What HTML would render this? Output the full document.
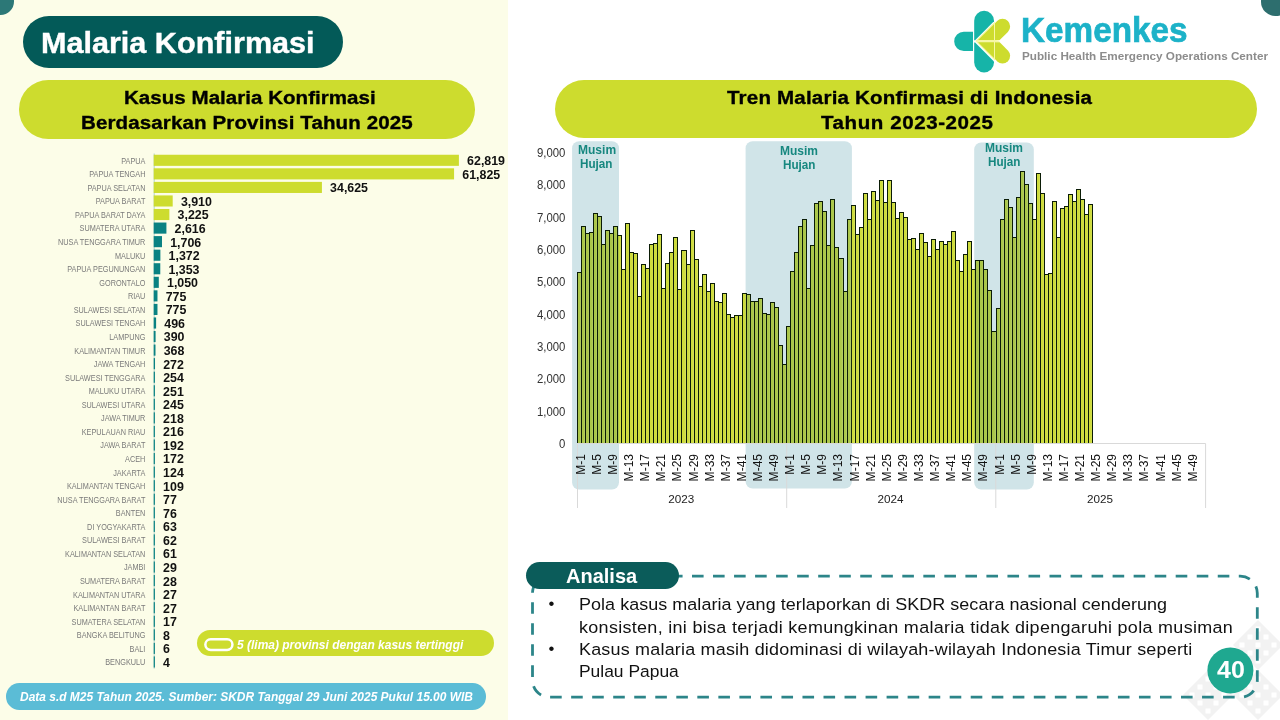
<!DOCTYPE html>
<html lang="id"><head><meta charset="utf-8"><title>Malaria Konfirmasi</title>
<style>
html,body{margin:0;padding:0;}
body{width:1280px;height:720px;overflow:hidden;background:#fff;position:relative;font-family:'Liberation Sans', sans-serif;}
.abs{position:absolute;}
.t{position:absolute;white-space:pre;transform-origin:0 0;}
svg text{font-family:'Liberation Sans', sans-serif;}
</style></head><body>
<div class="abs" style="left:0;top:0;width:508px;height:720px;background:#FCFDE8"></div>
<div class="abs" style="left:-13.4px;top:-12.3px;width:27.2px;height:27.2px;border-radius:50%;background:#2C7877"></div>
<div class="abs" style="left:1261.2px;top:-13.1px;width:28.6px;height:28.6px;border-radius:50%;background:#2D6E6E"></div>
<div class="abs" style="left:22.9px;top:15.8px;width:320.4px;height:51.9px;border-radius:26px;background:#035A58"></div>
<div class="abs" style="left:19.3px;top:80px;width:455.7px;height:58.6px;border-radius:29.3px;background:#CDDC2E"></div>
<div class="abs" style="left:555px;top:80px;width:701.8px;height:58px;border-radius:29px;background:#CDDC2E"></div>
<div class="abs" style="left:197px;top:629.6px;width:297px;height:26.1px;border-radius:13.1px;background:#CDDC2E"></div>
<div class="abs" style="left:6px;top:683.1px;width:479.6px;height:26.5px;border-radius:13.3px;background:#5BBCD6"></div>
<svg class="abs" style="left:0;top:0" width="1280" height="720" viewBox="0 0 1280 720">
<g fill="#F2F2F2">
<polygon points="1183,695 1208,670 1233,695 1208,720"/>
<polygon points="1233,645 1258,620 1283,645 1258,670"/>
<polygon points="1233,695 1258,670 1283,695 1258,720"/>
<polygon points="1283,695 1308,670 1333,695 1308,720"/>
<polygon points="1283,645 1308,620 1333,645 1308,670"/>
<polygon points="1183,745 1208,720 1233,745 1208,770"/>
<polygon points="1233,745 1258,720 1283,745 1258,770"/>
<polygon points="1283,595 1308,570 1333,595 1308,620"/>
</g><g fill="#fff">
<rect x="1205.5" y="692.5" width="5" height="5"/>
<rect x="1197.5" y="684.5" width="5" height="5"/>
<rect x="1213.5" y="684.5" width="5" height="5"/>
<rect x="1197.5" y="700.5" width="5" height="5"/>
<rect x="1213.5" y="700.5" width="5" height="5"/>
<rect x="1205.5" y="676.5" width="5" height="5"/>
<rect x="1205.5" y="708.5" width="5" height="5"/>
<rect x="1189.5" y="692.5" width="5" height="5"/>
<rect x="1221.5" y="692.5" width="5" height="5"/>
<rect x="1255.5" y="642.5" width="5" height="5"/>
<rect x="1247.5" y="634.5" width="5" height="5"/>
<rect x="1263.5" y="634.5" width="5" height="5"/>
<rect x="1247.5" y="650.5" width="5" height="5"/>
<rect x="1263.5" y="650.5" width="5" height="5"/>
<rect x="1255.5" y="626.5" width="5" height="5"/>
<rect x="1255.5" y="658.5" width="5" height="5"/>
<rect x="1239.5" y="642.5" width="5" height="5"/>
<rect x="1271.5" y="642.5" width="5" height="5"/>
<rect x="1255.5" y="692.5" width="5" height="5"/>
<rect x="1247.5" y="684.5" width="5" height="5"/>
<rect x="1263.5" y="684.5" width="5" height="5"/>
<rect x="1247.5" y="700.5" width="5" height="5"/>
<rect x="1263.5" y="700.5" width="5" height="5"/>
<rect x="1255.5" y="676.5" width="5" height="5"/>
<rect x="1255.5" y="708.5" width="5" height="5"/>
<rect x="1239.5" y="692.5" width="5" height="5"/>
<rect x="1271.5" y="692.5" width="5" height="5"/>
<rect x="1305.5" y="692.5" width="5" height="5"/>
<rect x="1297.5" y="684.5" width="5" height="5"/>
<rect x="1313.5" y="684.5" width="5" height="5"/>
<rect x="1297.5" y="700.5" width="5" height="5"/>
<rect x="1313.5" y="700.5" width="5" height="5"/>
<rect x="1305.5" y="676.5" width="5" height="5"/>
<rect x="1305.5" y="708.5" width="5" height="5"/>
<rect x="1289.5" y="692.5" width="5" height="5"/>
<rect x="1321.5" y="692.5" width="5" height="5"/>
<rect x="1305.5" y="642.5" width="5" height="5"/>
<rect x="1297.5" y="634.5" width="5" height="5"/>
<rect x="1313.5" y="634.5" width="5" height="5"/>
<rect x="1297.5" y="650.5" width="5" height="5"/>
<rect x="1313.5" y="650.5" width="5" height="5"/>
<rect x="1305.5" y="626.5" width="5" height="5"/>
<rect x="1305.5" y="658.5" width="5" height="5"/>
<rect x="1289.5" y="642.5" width="5" height="5"/>
<rect x="1321.5" y="642.5" width="5" height="5"/>
<rect x="1205.5" y="742.5" width="5" height="5"/>
<rect x="1197.5" y="734.5" width="5" height="5"/>
<rect x="1213.5" y="734.5" width="5" height="5"/>
<rect x="1197.5" y="750.5" width="5" height="5"/>
<rect x="1213.5" y="750.5" width="5" height="5"/>
<rect x="1205.5" y="726.5" width="5" height="5"/>
<rect x="1205.5" y="758.5" width="5" height="5"/>
<rect x="1189.5" y="742.5" width="5" height="5"/>
<rect x="1221.5" y="742.5" width="5" height="5"/>
<rect x="1255.5" y="742.5" width="5" height="5"/>
<rect x="1247.5" y="734.5" width="5" height="5"/>
<rect x="1263.5" y="734.5" width="5" height="5"/>
<rect x="1247.5" y="750.5" width="5" height="5"/>
<rect x="1263.5" y="750.5" width="5" height="5"/>
<rect x="1255.5" y="726.5" width="5" height="5"/>
<rect x="1255.5" y="758.5" width="5" height="5"/>
<rect x="1239.5" y="742.5" width="5" height="5"/>
<rect x="1271.5" y="742.5" width="5" height="5"/>
<rect x="1305.5" y="592.5" width="5" height="5"/>
<rect x="1297.5" y="584.5" width="5" height="5"/>
<rect x="1313.5" y="584.5" width="5" height="5"/>
<rect x="1297.5" y="600.5" width="5" height="5"/>
<rect x="1313.5" y="600.5" width="5" height="5"/>
<rect x="1305.5" y="576.5" width="5" height="5"/>
<rect x="1305.5" y="608.5" width="5" height="5"/>
<rect x="1289.5" y="592.5" width="5" height="5"/>
<rect x="1321.5" y="592.5" width="5" height="5"/>
</g>
<line x1="154.2" y1="153.5" x2="154.2" y2="668.7" stroke="#8fc0c0" stroke-width="0.7"/>
<rect x="153.7" y="154.75" width="305.20" height="11.1" fill="#CDDC2E"/>
<text transform="translate(145.4,163.70) scale(0.785,1)" text-anchor="end" font-size="9.3" fill="#7a7a7a">PAPUA</text>
<text x="467.10" y="165.20" font-size="12.4" font-weight="bold" fill="#111">62,819</text>
<rect x="153.7" y="168.31" width="300.37" height="11.1" fill="#CDDC2E"/>
<text transform="translate(145.4,177.26) scale(0.785,1)" text-anchor="end" font-size="9.3" fill="#7a7a7a">PAPUA TENGAH</text>
<text x="462.27" y="178.76" font-size="12.4" font-weight="bold" fill="#111">61,825</text>
<rect x="153.7" y="181.87" width="168.22" height="11.1" fill="#CDDC2E"/>
<text transform="translate(145.4,190.82) scale(0.785,1)" text-anchor="end" font-size="9.3" fill="#7a7a7a">PAPUA SELATAN</text>
<text x="330.12" y="192.32" font-size="12.4" font-weight="bold" fill="#111">34,625</text>
<rect x="153.7" y="195.42" width="19.00" height="11.1" fill="#CDDC2E"/>
<text transform="translate(145.4,204.37) scale(0.785,1)" text-anchor="end" font-size="9.3" fill="#7a7a7a">PAPUA BARAT</text>
<text x="180.90" y="205.87" font-size="12.4" font-weight="bold" fill="#111">3,910</text>
<rect x="153.7" y="208.98" width="15.67" height="11.1" fill="#CDDC2E"/>
<text transform="translate(145.4,217.93) scale(0.785,1)" text-anchor="end" font-size="9.3" fill="#7a7a7a">PAPUA BARAT DAYA</text>
<text x="177.57" y="219.43" font-size="12.4" font-weight="bold" fill="#111">3,225</text>
<rect x="153.7" y="222.54" width="12.71" height="11.1" fill="#0A8282"/>
<text transform="translate(145.4,231.49) scale(0.785,1)" text-anchor="end" font-size="9.3" fill="#7a7a7a">SUMATERA UTARA</text>
<text x="174.61" y="232.99" font-size="12.4" font-weight="bold" fill="#111">2,616</text>
<rect x="153.7" y="236.10" width="8.29" height="11.1" fill="#0A8282"/>
<text transform="translate(145.4,245.05) scale(0.785,1)" text-anchor="end" font-size="9.3" fill="#7a7a7a">NUSA TENGGARA TIMUR</text>
<text x="170.19" y="246.55" font-size="12.4" font-weight="bold" fill="#111">1,706</text>
<rect x="153.7" y="249.66" width="6.67" height="11.1" fill="#0A8282"/>
<text transform="translate(145.4,258.61) scale(0.785,1)" text-anchor="end" font-size="9.3" fill="#7a7a7a">MALUKU</text>
<text x="168.57" y="260.11" font-size="12.4" font-weight="bold" fill="#111">1,372</text>
<rect x="153.7" y="263.21" width="6.57" height="11.1" fill="#0A8282"/>
<text transform="translate(145.4,272.16) scale(0.785,1)" text-anchor="end" font-size="9.3" fill="#7a7a7a">PAPUA PEGUNUNGAN</text>
<text x="168.47" y="273.66" font-size="12.4" font-weight="bold" fill="#111">1,353</text>
<rect x="153.7" y="276.77" width="5.10" height="11.1" fill="#0A8282"/>
<text transform="translate(145.4,285.72) scale(0.785,1)" text-anchor="end" font-size="9.3" fill="#7a7a7a">GORONTALO</text>
<text x="167.00" y="287.22" font-size="12.4" font-weight="bold" fill="#111">1,050</text>
<rect x="153.7" y="290.33" width="3.77" height="11.1" fill="#0A8282"/>
<text transform="translate(145.4,299.28) scale(0.785,1)" text-anchor="end" font-size="9.3" fill="#7a7a7a">RIAU</text>
<text x="165.67" y="300.78" font-size="12.4" font-weight="bold" fill="#111">775</text>
<rect x="153.7" y="303.89" width="3.77" height="11.1" fill="#0A8282"/>
<text transform="translate(145.4,312.84) scale(0.785,1)" text-anchor="end" font-size="9.3" fill="#7a7a7a">SULAWESI SELATAN</text>
<text x="165.67" y="314.34" font-size="12.4" font-weight="bold" fill="#111">775</text>
<rect x="153.7" y="317.45" width="2.41" height="11.1" fill="#0A8282"/>
<text transform="translate(145.4,326.40) scale(0.785,1)" text-anchor="end" font-size="9.3" fill="#7a7a7a">SULAWESI TENGAH</text>
<text x="164.31" y="327.90" font-size="12.4" font-weight="bold" fill="#111">496</text>
<rect x="153.7" y="331.00" width="1.89" height="11.1" fill="#0A8282"/>
<text transform="translate(145.4,339.95) scale(0.785,1)" text-anchor="end" font-size="9.3" fill="#7a7a7a">LAMPUNG</text>
<text x="163.79" y="341.45" font-size="12.4" font-weight="bold" fill="#111">390</text>
<rect x="153.7" y="344.56" width="1.79" height="11.1" fill="#0A8282"/>
<text transform="translate(145.4,353.51) scale(0.785,1)" text-anchor="end" font-size="9.3" fill="#7a7a7a">KALIMANTAN TIMUR</text>
<text x="163.69" y="355.01" font-size="12.4" font-weight="bold" fill="#111">368</text>
<rect x="153.7" y="358.12" width="1.32" height="11.1" fill="#0A8282"/>
<text transform="translate(145.4,367.07) scale(0.785,1)" text-anchor="end" font-size="9.3" fill="#7a7a7a">JAWA TENGAH</text>
<text x="163.22" y="368.57" font-size="12.4" font-weight="bold" fill="#111">272</text>
<rect x="153.7" y="371.68" width="1.23" height="11.1" fill="#0A8282"/>
<text transform="translate(145.4,380.63) scale(0.785,1)" text-anchor="end" font-size="9.3" fill="#7a7a7a">SULAWESI TENGGARA</text>
<text x="163.13" y="382.13" font-size="12.4" font-weight="bold" fill="#111">254</text>
<rect x="153.7" y="385.24" width="1.22" height="11.1" fill="#0A8282"/>
<text transform="translate(145.4,394.19) scale(0.785,1)" text-anchor="end" font-size="9.3" fill="#7a7a7a">MALUKU UTARA</text>
<text x="163.12" y="395.69" font-size="12.4" font-weight="bold" fill="#111">251</text>
<rect x="153.7" y="398.79" width="1.20" height="11.1" fill="#0A8282"/>
<text transform="translate(145.4,407.74) scale(0.785,1)" text-anchor="end" font-size="9.3" fill="#7a7a7a">SULAWESI UTARA</text>
<text x="163.10" y="409.24" font-size="12.4" font-weight="bold" fill="#111">245</text>
<rect x="153.7" y="412.35" width="1.20" height="11.1" fill="#0A8282"/>
<text transform="translate(145.4,421.30) scale(0.785,1)" text-anchor="end" font-size="9.3" fill="#7a7a7a">JAWA TIMUR</text>
<text x="163.10" y="422.80" font-size="12.4" font-weight="bold" fill="#111">218</text>
<rect x="153.7" y="425.91" width="1.20" height="11.1" fill="#0A8282"/>
<text transform="translate(145.4,434.86) scale(0.785,1)" text-anchor="end" font-size="9.3" fill="#7a7a7a">KEPULAUAN RIAU</text>
<text x="163.10" y="436.36" font-size="12.4" font-weight="bold" fill="#111">216</text>
<rect x="153.7" y="439.47" width="1.20" height="11.1" fill="#0A8282"/>
<text transform="translate(145.4,448.42) scale(0.785,1)" text-anchor="end" font-size="9.3" fill="#7a7a7a">JAWA BARAT</text>
<text x="163.10" y="449.92" font-size="12.4" font-weight="bold" fill="#111">192</text>
<rect x="153.7" y="453.03" width="1.20" height="11.1" fill="#0A8282"/>
<text transform="translate(145.4,461.98) scale(0.785,1)" text-anchor="end" font-size="9.3" fill="#7a7a7a">ACEH</text>
<text x="163.10" y="463.48" font-size="12.4" font-weight="bold" fill="#111">172</text>
<rect x="153.7" y="466.58" width="1.20" height="11.1" fill="#0A8282"/>
<text transform="translate(145.4,475.53) scale(0.785,1)" text-anchor="end" font-size="9.3" fill="#7a7a7a">JAKARTA</text>
<text x="163.10" y="477.03" font-size="12.4" font-weight="bold" fill="#111">124</text>
<rect x="153.7" y="480.14" width="1.20" height="11.1" fill="#0A8282"/>
<text transform="translate(145.4,489.09) scale(0.785,1)" text-anchor="end" font-size="9.3" fill="#7a7a7a">KALIMANTAN TENGAH</text>
<text x="163.10" y="490.59" font-size="12.4" font-weight="bold" fill="#111">109</text>
<rect x="153.7" y="493.70" width="1.20" height="11.1" fill="#0A8282"/>
<text transform="translate(145.4,502.65) scale(0.785,1)" text-anchor="end" font-size="9.3" fill="#7a7a7a">NUSA TENGGARA BARAT</text>
<text x="163.10" y="504.15" font-size="12.4" font-weight="bold" fill="#111">77</text>
<rect x="153.7" y="507.26" width="1.20" height="11.1" fill="#0A8282"/>
<text transform="translate(145.4,516.21) scale(0.785,1)" text-anchor="end" font-size="9.3" fill="#7a7a7a">BANTEN</text>
<text x="163.10" y="517.71" font-size="12.4" font-weight="bold" fill="#111">76</text>
<rect x="153.7" y="520.82" width="1.20" height="11.1" fill="#0A8282"/>
<text transform="translate(145.4,529.77) scale(0.785,1)" text-anchor="end" font-size="9.3" fill="#7a7a7a">DI YOGYAKARTA</text>
<text x="163.10" y="531.27" font-size="12.4" font-weight="bold" fill="#111">63</text>
<rect x="153.7" y="534.37" width="1.20" height="11.1" fill="#0A8282"/>
<text transform="translate(145.4,543.32) scale(0.785,1)" text-anchor="end" font-size="9.3" fill="#7a7a7a">SULAWESI BARAT</text>
<text x="163.10" y="544.82" font-size="12.4" font-weight="bold" fill="#111">62</text>
<rect x="153.7" y="547.93" width="1.20" height="11.1" fill="#0A8282"/>
<text transform="translate(145.4,556.88) scale(0.785,1)" text-anchor="end" font-size="9.3" fill="#7a7a7a">KALIMANTAN SELATAN</text>
<text x="163.10" y="558.38" font-size="12.4" font-weight="bold" fill="#111">61</text>
<rect x="153.7" y="561.49" width="1.20" height="11.1" fill="#0A8282"/>
<text transform="translate(145.4,570.44) scale(0.785,1)" text-anchor="end" font-size="9.3" fill="#7a7a7a">JAMBI</text>
<text x="163.10" y="571.94" font-size="12.4" font-weight="bold" fill="#111">29</text>
<rect x="153.7" y="575.05" width="1.20" height="11.1" fill="#0A8282"/>
<text transform="translate(145.4,584.00) scale(0.785,1)" text-anchor="end" font-size="9.3" fill="#7a7a7a">SUMATERA BARAT</text>
<text x="163.10" y="585.50" font-size="12.4" font-weight="bold" fill="#111">28</text>
<rect x="153.7" y="588.61" width="1.20" height="11.1" fill="#0A8282"/>
<text transform="translate(145.4,597.56) scale(0.785,1)" text-anchor="end" font-size="9.3" fill="#7a7a7a">KALIMANTAN UTARA</text>
<text x="163.10" y="599.06" font-size="12.4" font-weight="bold" fill="#111">27</text>
<rect x="153.7" y="602.16" width="1.20" height="11.1" fill="#0A8282"/>
<text transform="translate(145.4,611.11) scale(0.785,1)" text-anchor="end" font-size="9.3" fill="#7a7a7a">KALIMANTAN BARAT</text>
<text x="163.10" y="612.61" font-size="12.4" font-weight="bold" fill="#111">27</text>
<rect x="153.7" y="615.72" width="1.20" height="11.1" fill="#0A8282"/>
<text transform="translate(145.4,624.67) scale(0.785,1)" text-anchor="end" font-size="9.3" fill="#7a7a7a">SUMATERA SELATAN</text>
<text x="163.10" y="626.17" font-size="12.4" font-weight="bold" fill="#111">17</text>
<rect x="153.7" y="629.28" width="1.20" height="11.1" fill="#0A8282"/>
<text transform="translate(145.4,638.23) scale(0.785,1)" text-anchor="end" font-size="9.3" fill="#7a7a7a">BANGKA BELITUNG</text>
<text x="163.10" y="639.73" font-size="12.4" font-weight="bold" fill="#111">8</text>
<rect x="153.7" y="642.84" width="1.20" height="11.1" fill="#0A8282"/>
<text transform="translate(145.4,651.79) scale(0.785,1)" text-anchor="end" font-size="9.3" fill="#7a7a7a">BALI</text>
<text x="163.10" y="653.29" font-size="12.4" font-weight="bold" fill="#111">6</text>
<rect x="153.7" y="656.40" width="1.20" height="11.1" fill="#0A8282"/>
<text transform="translate(145.4,665.35) scale(0.785,1)" text-anchor="end" font-size="9.3" fill="#7a7a7a">BENGKULU</text>
<text x="163.10" y="666.85" font-size="12.4" font-weight="bold" fill="#111">4</text>
<rect x="572.1" y="141.25" width="46.90" height="348.35" rx="7" fill="#D0E4E8"/>
<rect x="745.6" y="141.25" width="106.30" height="347.35" rx="7" fill="#D0E4E8"/>
<rect x="974.2" y="142.5" width="59.60" height="347.10" rx="7" fill="#D0E4E8"/>
<text transform="translate(565.4,447.90) scale(0.94,1)" text-anchor="end" font-size="12.1" fill="#333">0</text>
<text transform="translate(565.4,415.56) scale(0.94,1)" text-anchor="end" font-size="12.1" fill="#333">1,000</text>
<text transform="translate(565.4,383.22) scale(0.94,1)" text-anchor="end" font-size="12.1" fill="#333">2,000</text>
<text transform="translate(565.4,350.88) scale(0.94,1)" text-anchor="end" font-size="12.1" fill="#333">3,000</text>
<text transform="translate(565.4,318.54) scale(0.94,1)" text-anchor="end" font-size="12.1" fill="#333">4,000</text>
<text transform="translate(565.4,286.20) scale(0.94,1)" text-anchor="end" font-size="12.1" fill="#333">5,000</text>
<text transform="translate(565.4,253.86) scale(0.94,1)" text-anchor="end" font-size="12.1" fill="#333">6,000</text>
<text transform="translate(565.4,221.52) scale(0.94,1)" text-anchor="end" font-size="12.1" fill="#333">7,000</text>
<text transform="translate(565.4,189.18) scale(0.94,1)" text-anchor="end" font-size="12.1" fill="#333">8,000</text>
<text transform="translate(565.4,156.84) scale(0.94,1)" text-anchor="end" font-size="12.1" fill="#333">9,000</text>
<path d="M577.5 443.5H1205.6M577.5 443.5V508M786.7 443.5V508M995.8 443.5V508M1205.6 443.5V508" stroke="#d9d9d9" stroke-width="1" fill="none"/>
<defs><linearGradient id="gy" x1="0" x2="1" y1="0" y2="0"><stop offset="0" stop-color="#D0DE3C"/><stop offset="0.55" stop-color="#CDDB3C"/><stop offset="1" stop-color="#D8E262"/></linearGradient>
<linearGradient id="gg" x1="0" x2="1" y1="0" y2="0"><stop offset="0" stop-color="#AAC64A"/><stop offset="0.55" stop-color="#ABC648"/><stop offset="1" stop-color="#B6CF70"/></linearGradient>
<clipPath id="boxclip"><rect x="572.1" y="100" width="46.90" height="400"/><rect x="745.6" y="100" width="106.30" height="400"/><rect x="974.2" y="100" width="59.60" height="400"/></clipPath></defs>
<g fill="url(#gy)" stroke="#0B1C06" stroke-width="1" shape-rendering="crispEdges" >
<path d="M577.30 443.0V272.5H581.33V443.0"/>
<path d="M581.33 443.0V226.5H585.35V443.0"/>
<path d="M585.35 443.0V233.5H589.38V443.0"/>
<path d="M589.38 443.0V232.5H593.40V443.0"/>
<path d="M593.40 443.0V213.5H597.43V443.0"/>
<path d="M597.43 443.0V216.5H601.46V443.0"/>
<path d="M601.46 443.0V244.5H605.48V443.0"/>
<path d="M605.48 443.0V230.5H609.51V443.0"/>
<path d="M609.51 443.0V233.5H613.53V443.0"/>
<path d="M613.53 443.0V226.5H617.56V443.0"/>
<path d="M617.56 443.0V235.5H621.59V443.0"/>
<path d="M621.59 443.0V269.5H625.61V443.0"/>
<path d="M625.61 443.0V223.5H629.64V443.0"/>
<path d="M629.64 443.0V252.5H633.66V443.0"/>
<path d="M633.66 443.0V253.5H637.69V443.0"/>
<path d="M637.69 443.0V296.5H641.72V443.0"/>
<path d="M641.72 443.0V264.5H645.74V443.0"/>
<path d="M645.74 443.0V268.5H649.77V443.0"/>
<path d="M649.77 443.0V244.5H653.79V443.0"/>
<path d="M653.79 443.0V243.5H657.82V443.0"/>
<path d="M657.82 443.0V234.5H661.85V443.0"/>
<path d="M661.85 443.0V288.5H665.87V443.0"/>
<path d="M665.87 443.0V263.5H669.90V443.0"/>
<path d="M669.90 443.0V252.5H673.92V443.0"/>
<path d="M673.92 443.0V237.5H677.95V443.0"/>
<path d="M677.95 443.0V289.5H681.98V443.0"/>
<path d="M681.98 443.0V250.5H686.00V443.0"/>
<path d="M686.00 443.0V264.5H690.03V443.0"/>
<path d="M690.03 443.0V230.5H694.05V443.0"/>
<path d="M694.05 443.0V259.5H698.08V443.0"/>
<path d="M698.08 443.0V286.5H702.11V443.0"/>
<path d="M702.11 443.0V274.5H706.13V443.0"/>
<path d="M706.13 443.0V291.5H710.16V443.0"/>
<path d="M710.16 443.0V283.5H714.18V443.0"/>
<path d="M714.18 443.0V301.5H718.21V443.0"/>
<path d="M718.21 443.0V302.5H722.24V443.0"/>
<path d="M722.24 443.0V293.5H726.26V443.0"/>
<path d="M726.26 443.0V314.5H730.29V443.0"/>
<path d="M730.29 443.0V317.5H734.31V443.0"/>
<path d="M734.31 443.0V315.5H738.34V443.0"/>
<path d="M738.34 443.0V315.5H742.37V443.0"/>
<path d="M742.37 443.0V293.5H746.39V443.0"/>
<path d="M746.39 443.0V294.5H750.42V443.0"/>
<path d="M750.42 443.0V301.5H754.44V443.0"/>
<path d="M754.44 443.0V301.5H758.47V443.0"/>
<path d="M758.47 443.0V298.5H762.50V443.0"/>
<path d="M762.50 443.0V313.5H766.52V443.0"/>
<path d="M766.52 443.0V314.5H770.55V443.0"/>
<path d="M770.55 443.0V302.5H774.57V443.0"/>
<path d="M774.57 443.0V307.5H778.60V443.0"/>
<path d="M778.60 443.0V345.5H782.63V443.0"/>
<path d="M782.63 443.0V364.5H786.65V443.0"/>
<path d="M786.65 443.0V326.5H790.68V443.0"/>
<path d="M790.68 443.0V271.5H794.70V443.0"/>
<path d="M794.70 443.0V252.5H798.73V443.0"/>
<path d="M798.73 443.0V226.5H802.76V443.0"/>
<path d="M802.76 443.0V219.5H806.78V443.0"/>
<path d="M806.78 443.0V288.5H810.81V443.0"/>
<path d="M810.81 443.0V245.5H814.83V443.0"/>
<path d="M814.83 443.0V203.5H818.86V443.0"/>
<path d="M818.86 443.0V201.5H822.89V443.0"/>
<path d="M822.89 443.0V211.5H826.91V443.0"/>
<path d="M826.91 443.0V245.5H830.94V443.0"/>
<path d="M830.94 443.0V199.5H834.96V443.0"/>
<path d="M834.96 443.0V247.5H838.99V443.0"/>
<path d="M838.99 443.0V258.5H843.02V443.0"/>
<path d="M843.02 443.0V291.5H847.04V443.0"/>
<path d="M847.04 443.0V219.5H851.07V443.0"/>
<path d="M851.07 443.0V205.5H855.09V443.0"/>
<path d="M855.09 443.0V234.5H859.12V443.0"/>
<path d="M859.12 443.0V227.5H863.15V443.0"/>
<path d="M863.15 443.0V193.5H867.17V443.0"/>
<path d="M867.17 443.0V219.5H871.20V443.0"/>
<path d="M871.20 443.0V191.5H875.22V443.0"/>
<path d="M875.22 443.0V200.5H879.25V443.0"/>
<path d="M879.25 443.0V180.5H883.28V443.0"/>
<path d="M883.28 443.0V202.5H887.30V443.0"/>
<path d="M887.30 443.0V180.5H891.33V443.0"/>
<path d="M891.33 443.0V202.5H895.35V443.0"/>
<path d="M895.35 443.0V218.5H899.38V443.0"/>
<path d="M899.38 443.0V212.5H903.41V443.0"/>
<path d="M903.41 443.0V217.5H907.43V443.0"/>
<path d="M907.43 443.0V239.5H911.46V443.0"/>
<path d="M911.46 443.0V238.5H915.48V443.0"/>
<path d="M915.48 443.0V249.5H919.51V443.0"/>
<path d="M919.51 443.0V233.5H923.54V443.0"/>
<path d="M923.54 443.0V242.5H927.56V443.0"/>
<path d="M927.56 443.0V256.5H931.59V443.0"/>
<path d="M931.59 443.0V239.5H935.61V443.0"/>
<path d="M935.61 443.0V249.5H939.64V443.0"/>
<path d="M939.64 443.0V241.5H943.67V443.0"/>
<path d="M943.67 443.0V244.5H947.69V443.0"/>
<path d="M947.69 443.0V241.5H951.72V443.0"/>
<path d="M951.72 443.0V231.5H955.74V443.0"/>
<path d="M955.74 443.0V260.5H959.77V443.0"/>
<path d="M959.77 443.0V271.5H963.80V443.0"/>
<path d="M963.80 443.0V254.5H967.82V443.0"/>
<path d="M967.82 443.0V241.5H971.85V443.0"/>
<path d="M971.85 443.0V269.5H975.87V443.0"/>
<path d="M975.87 443.0V260.5H979.90V443.0"/>
<path d="M979.90 443.0V260.5H983.93V443.0"/>
<path d="M983.93 443.0V269.5H987.95V443.0"/>
<path d="M987.95 443.0V290.5H991.98V443.0"/>
<path d="M991.98 443.0V331.5H996.00V443.0"/>
<path d="M996.00 443.0V308.5H1000.03V443.0"/>
<path d="M1000.03 443.0V219.5H1004.06V443.0"/>
<path d="M1004.06 443.0V199.5H1008.08V443.0"/>
<path d="M1008.08 443.0V207.5H1012.11V443.0"/>
<path d="M1012.11 443.0V237.5H1016.13V443.0"/>
<path d="M1016.13 443.0V197.5H1020.16V443.0"/>
<path d="M1020.16 443.0V171.5H1024.19V443.0"/>
<path d="M1024.19 443.0V184.5H1028.21V443.0"/>
<path d="M1028.21 443.0V203.5H1032.24V443.0"/>
<path d="M1032.24 443.0V219.5H1036.26V443.0"/>
<path d="M1036.26 443.0V173.5H1040.29V443.0"/>
<path d="M1040.29 443.0V193.5H1044.32V443.0"/>
<path d="M1044.32 443.0V274.5H1048.34V443.0"/>
<path d="M1048.34 443.0V273.5H1052.37V443.0"/>
<path d="M1052.37 443.0V201.5H1056.39V443.0"/>
<path d="M1056.39 443.0V237.5H1060.42V443.0"/>
<path d="M1060.42 443.0V208.5H1064.45V443.0"/>
<path d="M1064.45 443.0V206.5H1068.47V443.0"/>
<path d="M1068.47 443.0V194.5H1072.50V443.0"/>
<path d="M1072.50 443.0V201.5H1076.52V443.0"/>
<path d="M1076.52 443.0V189.5H1080.55V443.0"/>
<path d="M1080.55 443.0V199.5H1084.58V443.0"/>
<path d="M1084.58 443.0V214.5H1088.60V443.0"/>
<path d="M1088.60 443.0V204.5H1092.63V443.0"/>
</g>
<g fill="url(#gg)" stroke="#0B1C06" stroke-width="1" shape-rendering="crispEdges" clip-path="url(#boxclip)">
<path d="M577.30 443.0V272.5H581.33V443.0"/>
<path d="M581.33 443.0V226.5H585.35V443.0"/>
<path d="M585.35 443.0V233.5H589.38V443.0"/>
<path d="M589.38 443.0V232.5H593.40V443.0"/>
<path d="M593.40 443.0V213.5H597.43V443.0"/>
<path d="M597.43 443.0V216.5H601.46V443.0"/>
<path d="M601.46 443.0V244.5H605.48V443.0"/>
<path d="M605.48 443.0V230.5H609.51V443.0"/>
<path d="M609.51 443.0V233.5H613.53V443.0"/>
<path d="M613.53 443.0V226.5H617.56V443.0"/>
<path d="M617.56 443.0V235.5H621.59V443.0"/>
<path d="M621.59 443.0V269.5H625.61V443.0"/>
<path d="M625.61 443.0V223.5H629.64V443.0"/>
<path d="M629.64 443.0V252.5H633.66V443.0"/>
<path d="M633.66 443.0V253.5H637.69V443.0"/>
<path d="M637.69 443.0V296.5H641.72V443.0"/>
<path d="M641.72 443.0V264.5H645.74V443.0"/>
<path d="M645.74 443.0V268.5H649.77V443.0"/>
<path d="M649.77 443.0V244.5H653.79V443.0"/>
<path d="M653.79 443.0V243.5H657.82V443.0"/>
<path d="M657.82 443.0V234.5H661.85V443.0"/>
<path d="M661.85 443.0V288.5H665.87V443.0"/>
<path d="M665.87 443.0V263.5H669.90V443.0"/>
<path d="M669.90 443.0V252.5H673.92V443.0"/>
<path d="M673.92 443.0V237.5H677.95V443.0"/>
<path d="M677.95 443.0V289.5H681.98V443.0"/>
<path d="M681.98 443.0V250.5H686.00V443.0"/>
<path d="M686.00 443.0V264.5H690.03V443.0"/>
<path d="M690.03 443.0V230.5H694.05V443.0"/>
<path d="M694.05 443.0V259.5H698.08V443.0"/>
<path d="M698.08 443.0V286.5H702.11V443.0"/>
<path d="M702.11 443.0V274.5H706.13V443.0"/>
<path d="M706.13 443.0V291.5H710.16V443.0"/>
<path d="M710.16 443.0V283.5H714.18V443.0"/>
<path d="M714.18 443.0V301.5H718.21V443.0"/>
<path d="M718.21 443.0V302.5H722.24V443.0"/>
<path d="M722.24 443.0V293.5H726.26V443.0"/>
<path d="M726.26 443.0V314.5H730.29V443.0"/>
<path d="M730.29 443.0V317.5H734.31V443.0"/>
<path d="M734.31 443.0V315.5H738.34V443.0"/>
<path d="M738.34 443.0V315.5H742.37V443.0"/>
<path d="M742.37 443.0V293.5H746.39V443.0"/>
<path d="M746.39 443.0V294.5H750.42V443.0"/>
<path d="M750.42 443.0V301.5H754.44V443.0"/>
<path d="M754.44 443.0V301.5H758.47V443.0"/>
<path d="M758.47 443.0V298.5H762.50V443.0"/>
<path d="M762.50 443.0V313.5H766.52V443.0"/>
<path d="M766.52 443.0V314.5H770.55V443.0"/>
<path d="M770.55 443.0V302.5H774.57V443.0"/>
<path d="M774.57 443.0V307.5H778.60V443.0"/>
<path d="M778.60 443.0V345.5H782.63V443.0"/>
<path d="M782.63 443.0V364.5H786.65V443.0"/>
<path d="M786.65 443.0V326.5H790.68V443.0"/>
<path d="M790.68 443.0V271.5H794.70V443.0"/>
<path d="M794.70 443.0V252.5H798.73V443.0"/>
<path d="M798.73 443.0V226.5H802.76V443.0"/>
<path d="M802.76 443.0V219.5H806.78V443.0"/>
<path d="M806.78 443.0V288.5H810.81V443.0"/>
<path d="M810.81 443.0V245.5H814.83V443.0"/>
<path d="M814.83 443.0V203.5H818.86V443.0"/>
<path d="M818.86 443.0V201.5H822.89V443.0"/>
<path d="M822.89 443.0V211.5H826.91V443.0"/>
<path d="M826.91 443.0V245.5H830.94V443.0"/>
<path d="M830.94 443.0V199.5H834.96V443.0"/>
<path d="M834.96 443.0V247.5H838.99V443.0"/>
<path d="M838.99 443.0V258.5H843.02V443.0"/>
<path d="M843.02 443.0V291.5H847.04V443.0"/>
<path d="M847.04 443.0V219.5H851.07V443.0"/>
<path d="M851.07 443.0V205.5H855.09V443.0"/>
<path d="M855.09 443.0V234.5H859.12V443.0"/>
<path d="M859.12 443.0V227.5H863.15V443.0"/>
<path d="M863.15 443.0V193.5H867.17V443.0"/>
<path d="M867.17 443.0V219.5H871.20V443.0"/>
<path d="M871.20 443.0V191.5H875.22V443.0"/>
<path d="M875.22 443.0V200.5H879.25V443.0"/>
<path d="M879.25 443.0V180.5H883.28V443.0"/>
<path d="M883.28 443.0V202.5H887.30V443.0"/>
<path d="M887.30 443.0V180.5H891.33V443.0"/>
<path d="M891.33 443.0V202.5H895.35V443.0"/>
<path d="M895.35 443.0V218.5H899.38V443.0"/>
<path d="M899.38 443.0V212.5H903.41V443.0"/>
<path d="M903.41 443.0V217.5H907.43V443.0"/>
<path d="M907.43 443.0V239.5H911.46V443.0"/>
<path d="M911.46 443.0V238.5H915.48V443.0"/>
<path d="M915.48 443.0V249.5H919.51V443.0"/>
<path d="M919.51 443.0V233.5H923.54V443.0"/>
<path d="M923.54 443.0V242.5H927.56V443.0"/>
<path d="M927.56 443.0V256.5H931.59V443.0"/>
<path d="M931.59 443.0V239.5H935.61V443.0"/>
<path d="M935.61 443.0V249.5H939.64V443.0"/>
<path d="M939.64 443.0V241.5H943.67V443.0"/>
<path d="M943.67 443.0V244.5H947.69V443.0"/>
<path d="M947.69 443.0V241.5H951.72V443.0"/>
<path d="M951.72 443.0V231.5H955.74V443.0"/>
<path d="M955.74 443.0V260.5H959.77V443.0"/>
<path d="M959.77 443.0V271.5H963.80V443.0"/>
<path d="M963.80 443.0V254.5H967.82V443.0"/>
<path d="M967.82 443.0V241.5H971.85V443.0"/>
<path d="M971.85 443.0V269.5H975.87V443.0"/>
<path d="M975.87 443.0V260.5H979.90V443.0"/>
<path d="M979.90 443.0V260.5H983.93V443.0"/>
<path d="M983.93 443.0V269.5H987.95V443.0"/>
<path d="M987.95 443.0V290.5H991.98V443.0"/>
<path d="M991.98 443.0V331.5H996.00V443.0"/>
<path d="M996.00 443.0V308.5H1000.03V443.0"/>
<path d="M1000.03 443.0V219.5H1004.06V443.0"/>
<path d="M1004.06 443.0V199.5H1008.08V443.0"/>
<path d="M1008.08 443.0V207.5H1012.11V443.0"/>
<path d="M1012.11 443.0V237.5H1016.13V443.0"/>
<path d="M1016.13 443.0V197.5H1020.16V443.0"/>
<path d="M1020.16 443.0V171.5H1024.19V443.0"/>
<path d="M1024.19 443.0V184.5H1028.21V443.0"/>
<path d="M1028.21 443.0V203.5H1032.24V443.0"/>
<path d="M1032.24 443.0V219.5H1036.26V443.0"/>
<path d="M1036.26 443.0V173.5H1040.29V443.0"/>
<path d="M1040.29 443.0V193.5H1044.32V443.0"/>
<path d="M1044.32 443.0V274.5H1048.34V443.0"/>
<path d="M1048.34 443.0V273.5H1052.37V443.0"/>
<path d="M1052.37 443.0V201.5H1056.39V443.0"/>
<path d="M1056.39 443.0V237.5H1060.42V443.0"/>
<path d="M1060.42 443.0V208.5H1064.45V443.0"/>
<path d="M1064.45 443.0V206.5H1068.47V443.0"/>
<path d="M1068.47 443.0V194.5H1072.50V443.0"/>
<path d="M1072.50 443.0V201.5H1076.52V443.0"/>
<path d="M1076.52 443.0V189.5H1080.55V443.0"/>
<path d="M1080.55 443.0V199.5H1084.58V443.0"/>
<path d="M1084.58 443.0V214.5H1088.60V443.0"/>
<path d="M1088.60 443.0V204.5H1092.63V443.0"/>
</g>
<text transform="translate(584.81,454) rotate(-90) scale(0.925,1)" text-anchor="end" font-size="13" fill="#111">M-1</text>
<text transform="translate(600.92,454) rotate(-90) scale(0.925,1)" text-anchor="end" font-size="13" fill="#111">M-5</text>
<text transform="translate(617.02,454) rotate(-90) scale(0.925,1)" text-anchor="end" font-size="13" fill="#111">M-9</text>
<text transform="translate(633.12,454) rotate(-90) scale(0.925,1)" text-anchor="end" font-size="13" fill="#111">M-13</text>
<text transform="translate(649.23,454) rotate(-90) scale(0.925,1)" text-anchor="end" font-size="13" fill="#111">M-17</text>
<text transform="translate(665.33,454) rotate(-90) scale(0.925,1)" text-anchor="end" font-size="13" fill="#111">M-21</text>
<text transform="translate(681.44,454) rotate(-90) scale(0.925,1)" text-anchor="end" font-size="13" fill="#111">M-25</text>
<text transform="translate(697.54,454) rotate(-90) scale(0.925,1)" text-anchor="end" font-size="13" fill="#111">M-29</text>
<text transform="translate(713.64,454) rotate(-90) scale(0.925,1)" text-anchor="end" font-size="13" fill="#111">M-33</text>
<text transform="translate(729.75,454) rotate(-90) scale(0.925,1)" text-anchor="end" font-size="13" fill="#111">M-37</text>
<text transform="translate(745.85,454) rotate(-90) scale(0.925,1)" text-anchor="end" font-size="13" fill="#111">M-41</text>
<text transform="translate(761.96,454) rotate(-90) scale(0.925,1)" text-anchor="end" font-size="13" fill="#111">M-45</text>
<text transform="translate(778.06,454) rotate(-90) scale(0.925,1)" text-anchor="end" font-size="13" fill="#111">M-49</text>
<text x="681.2" y="503.3" text-anchor="middle" font-size="11.7" fill="#222">2023</text>
<text transform="translate(794.16,454) rotate(-90) scale(0.925,1)" text-anchor="end" font-size="13" fill="#111">M-1</text>
<text transform="translate(810.27,454) rotate(-90) scale(0.925,1)" text-anchor="end" font-size="13" fill="#111">M-5</text>
<text transform="translate(826.37,454) rotate(-90) scale(0.925,1)" text-anchor="end" font-size="13" fill="#111">M-9</text>
<text transform="translate(842.48,454) rotate(-90) scale(0.925,1)" text-anchor="end" font-size="13" fill="#111">M-13</text>
<text transform="translate(858.58,454) rotate(-90) scale(0.925,1)" text-anchor="end" font-size="13" fill="#111">M-17</text>
<text transform="translate(874.68,454) rotate(-90) scale(0.925,1)" text-anchor="end" font-size="13" fill="#111">M-21</text>
<text transform="translate(890.79,454) rotate(-90) scale(0.925,1)" text-anchor="end" font-size="13" fill="#111">M-25</text>
<text transform="translate(906.89,454) rotate(-90) scale(0.925,1)" text-anchor="end" font-size="13" fill="#111">M-29</text>
<text transform="translate(923.00,454) rotate(-90) scale(0.925,1)" text-anchor="end" font-size="13" fill="#111">M-33</text>
<text transform="translate(939.10,454) rotate(-90) scale(0.925,1)" text-anchor="end" font-size="13" fill="#111">M-37</text>
<text transform="translate(955.21,454) rotate(-90) scale(0.925,1)" text-anchor="end" font-size="13" fill="#111">M-41</text>
<text transform="translate(971.31,454) rotate(-90) scale(0.925,1)" text-anchor="end" font-size="13" fill="#111">M-45</text>
<text transform="translate(987.41,454) rotate(-90) scale(0.925,1)" text-anchor="end" font-size="13" fill="#111">M-49</text>
<text x="890.6" y="503.3" text-anchor="middle" font-size="11.7" fill="#222">2024</text>
<text transform="translate(1003.52,454) rotate(-90) scale(0.925,1)" text-anchor="end" font-size="13" fill="#111">M-1</text>
<text transform="translate(1019.62,454) rotate(-90) scale(0.925,1)" text-anchor="end" font-size="13" fill="#111">M-5</text>
<text transform="translate(1035.72,454) rotate(-90) scale(0.925,1)" text-anchor="end" font-size="13" fill="#111">M-9</text>
<text transform="translate(1051.83,454) rotate(-90) scale(0.925,1)" text-anchor="end" font-size="13" fill="#111">M-13</text>
<text transform="translate(1067.93,454) rotate(-90) scale(0.925,1)" text-anchor="end" font-size="13" fill="#111">M-17</text>
<text transform="translate(1084.04,454) rotate(-90) scale(0.925,1)" text-anchor="end" font-size="13" fill="#111">M-21</text>
<text transform="translate(1100.14,454) rotate(-90) scale(0.925,1)" text-anchor="end" font-size="13" fill="#111">M-25</text>
<text transform="translate(1116.24,454) rotate(-90) scale(0.925,1)" text-anchor="end" font-size="13" fill="#111">M-29</text>
<text transform="translate(1132.35,454) rotate(-90) scale(0.925,1)" text-anchor="end" font-size="13" fill="#111">M-33</text>
<text transform="translate(1148.45,454) rotate(-90) scale(0.925,1)" text-anchor="end" font-size="13" fill="#111">M-37</text>
<text transform="translate(1164.56,454) rotate(-90) scale(0.925,1)" text-anchor="end" font-size="13" fill="#111">M-41</text>
<text transform="translate(1180.66,454) rotate(-90) scale(0.925,1)" text-anchor="end" font-size="13" fill="#111">M-45</text>
<text transform="translate(1196.76,454) rotate(-90) scale(0.925,1)" text-anchor="end" font-size="13" fill="#111">M-49</text>
<text x="1099.9" y="503.3" text-anchor="middle" font-size="11.7" fill="#222">2025</text>

<g>
<polygon points="975.4,41.1 994.5,22 995.2,22.4 995.2,40 999.6,40.4 999.6,41.8 995.2,42.2 995.2,59.8 994.5,60.2" fill="#F6F7A6"/>
<path d="M973 31.8H963.8A9.6 9.6 0 0 0 963.8 51H973Z" fill="#16B4A8"/>
<path d="M974.2 40.2V20.7A9.9 9.9 0 0 1 994 20.7V21.3L975.1 40.2Z" fill="#16B4A8"/>
<path d="M974.2 42.4V62.6A9.9 9.9 0 0 0 994 62.6V61.4L975.1 42.4Z" fill="#16B4A8"/>
<path d="M978 40.1L994 24.3V40.1Z" fill="#CDDC2E"/>
<path d="M978 42.2L994 58V42.2Z" fill="#CDDC2E"/>
<path d="M995 40.1V23.2L997.1 21.1A7.6 7.6 0 0 1 1007.9 31.9L999.7 40.1Z" fill="#CDDC2E"/>
<path d="M995 42.2V59.1L997.1 61.2A7.6 7.6 0 0 0 1007.9 50.4L999.7 42.2Z" fill="#CDDC2E"/>
</g>
<rect x="532.5" y="576.2" width="724.8" height="121" rx="17" fill="none" stroke="#2C8589" stroke-width="2.8" stroke-dasharray="11.6 9.43" stroke-dashoffset="-16.32"/>
<circle cx="1230.4" cy="670.4" r="23" fill="#1FA890"/>
<rect x="205.35" y="639.2" width="27.1" height="10.7" rx="5.35" fill="none" stroke="#fff" stroke-width="2.5"/>
</svg>
<div class="abs" style="left:525.9px;top:561.6px;width:153.4px;height:27.4px;border-radius:13.7px;background:#0B5C5A"></div>
<span class='t' style="left:40.90px;top:28.34px;font:normal bold 29.6px/29.6px 'Liberation Sans', sans-serif;color:#fff;letter-spacing:0.000px;transform:scaleX(1.0332);-webkit-text-stroke:0.4px #fff;">Malaria Konfirmasi</span>
<span class='t' style="left:124.30px;top:88.15px;font:normal bold 19.2px/19.2px 'Liberation Sans', sans-serif;color:#000;letter-spacing:0.027px;transform:scaleX(1.0700);-webkit-text-stroke:0.35px #000;">Kasus Malaria Konfirmasi</span>
<span class='t' style="left:81.20px;top:112.95px;font:normal bold 19.2px/19.2px 'Liberation Sans', sans-serif;color:#000;letter-spacing:0.110px;transform:scaleX(1.0700);-webkit-text-stroke:0.35px #000;">Berdasarkan Provinsi Tahun 2025</span>
<span class='t' style="left:727.00px;top:88.15px;font:normal bold 19.2px/19.2px 'Liberation Sans', sans-serif;color:#000;letter-spacing:0.181px;transform:scaleX(1.0700);-webkit-text-stroke:0.35px #000;">Tren Malaria Konfirmasi di Indonesia</span>
<span class='t' style="left:820.50px;top:112.95px;font:normal bold 19.2px/19.2px 'Liberation Sans', sans-serif;color:#000;letter-spacing:0.538px;transform:scaleX(1.0700);-webkit-text-stroke:0.35px #000;">Tahun 2023-2025</span>
<span class='t' style="left:1021.00px;top:11.97px;font:normal bold 35px/35px 'Liberation Sans', sans-serif;color:#1CB2C8;letter-spacing:0.000px;transform:scaleX(0.9514);-webkit-text-stroke:0.7px #1CB2C8;">Kemenkes</span>
<span class='t' style="left:1022.00px;top:49.70px;font:normal bold 11.7px/11.7px 'Liberation Sans', sans-serif;color:#8C8C8C;letter-spacing:-0.000px;transform:scaleX(1.0020);">Public Health Emergency Operations Center</span>
<span class='t' style="left:566.30px;top:566.45px;font:normal bold 20.5px/20.5px 'Liberation Sans', sans-serif;color:#fff;letter-spacing:0.000px;transform:scaleX(0.9764);">Analisa</span>
<span class='t' style="left:579.00px;top:596.78px;font:normal normal 16.8px/16.8px 'Liberation Sans', sans-serif;color:#111;letter-spacing:0.043px;transform:scaleX(1.0700);">Pola kasus malaria yang terlaporkan di SKDR secara nasional cenderung</span>
<span class='t' style="left:579.00px;top:619.68px;font:normal normal 16.8px/16.8px 'Liberation Sans', sans-serif;color:#111;letter-spacing:0.291px;transform:scaleX(1.0700);">konsisten, ini bisa terjadi kemungkinan malaria tidak dipengaruhi pola musiman</span>
<span class='t' style="left:579.00px;top:642.18px;font:normal normal 16.8px/16.8px 'Liberation Sans', sans-serif;color:#111;letter-spacing:0.188px;transform:scaleX(1.0700);">Kasus malaria masih didominasi di wilayah-wilayah Indonesia Timur seperti</span>
<span class='t' style="left:579.00px;top:663.78px;font:normal normal 16.8px/16.8px 'Liberation Sans', sans-serif;color:#111;letter-spacing:0.000px;transform:scaleX(1.0379);">Pulau Papua</span>
<span class='t' style="left:548.40px;top:595.78px;font:normal normal 16.8px/16.8px 'Liberation Sans', sans-serif;color:#111;letter-spacing:0.000px;transform:scaleX(1.0000);">•</span>
<span class='t' style="left:548.40px;top:641.18px;font:normal normal 16.8px/16.8px 'Liberation Sans', sans-serif;color:#111;letter-spacing:0.000px;transform:scaleX(1.0000);">•</span>
<span class='t' style="left:1216.60px;top:658.83px;font:normal bold 23px/23px 'Liberation Sans', sans-serif;color:#fff;letter-spacing:0.000px;transform:scaleX(1.0862);">40</span>
<span class='t' style="left:236.80px;top:637.60px;font:italic bold 13px/13px 'Liberation Sans', sans-serif;color:#fff;letter-spacing:0.000px;transform:scaleX(0.9214);">5 (lima) provinsi dengan kasus tertinggi</span>
<span class='t' style="left:20.30px;top:691.04px;font:italic bold 12px/12px 'Liberation Sans', sans-serif;color:#fff;letter-spacing:0.000px;transform:scaleX(0.9965);">Data s.d M25 Tahun 2025. Sumber: SKDR Tanggal 29 Juni 2025 Pukul 15.00 WIB</span>
<span class='t' style="left:577.50px;top:143.92px;font:normal bold 12.5px/12.5px 'Liberation Sans', sans-serif;color:#16877F;letter-spacing:0.000px;transform:scaleX(0.9623);">Musim</span>
<span class='t' style="left:579.75px;top:157.92px;font:normal bold 12.5px/12.5px 'Liberation Sans', sans-serif;color:#16877F;letter-spacing:0.000px;transform:scaleX(0.9357);">Hujan</span>
<span class='t' style="left:779.50px;top:145.42px;font:normal bold 12.5px/12.5px 'Liberation Sans', sans-serif;color:#16877F;letter-spacing:0.000px;transform:scaleX(0.9597);">Musim</span>
<span class='t' style="left:782.50px;top:159.17px;font:normal bold 12.5px/12.5px 'Liberation Sans', sans-serif;color:#16877F;letter-spacing:0.000px;transform:scaleX(0.9357);">Hujan</span>
<span class='t' style="left:984.50px;top:142.42px;font:normal bold 12.5px/12.5px 'Liberation Sans', sans-serif;color:#16877F;letter-spacing:0.000px;transform:scaleX(0.9597);">Musim</span>
<span class='t' style="left:987.50px;top:155.92px;font:normal bold 12.5px/12.5px 'Liberation Sans', sans-serif;color:#16877F;letter-spacing:0.000px;transform:scaleX(0.9357);">Hujan</span>
</body></html>
